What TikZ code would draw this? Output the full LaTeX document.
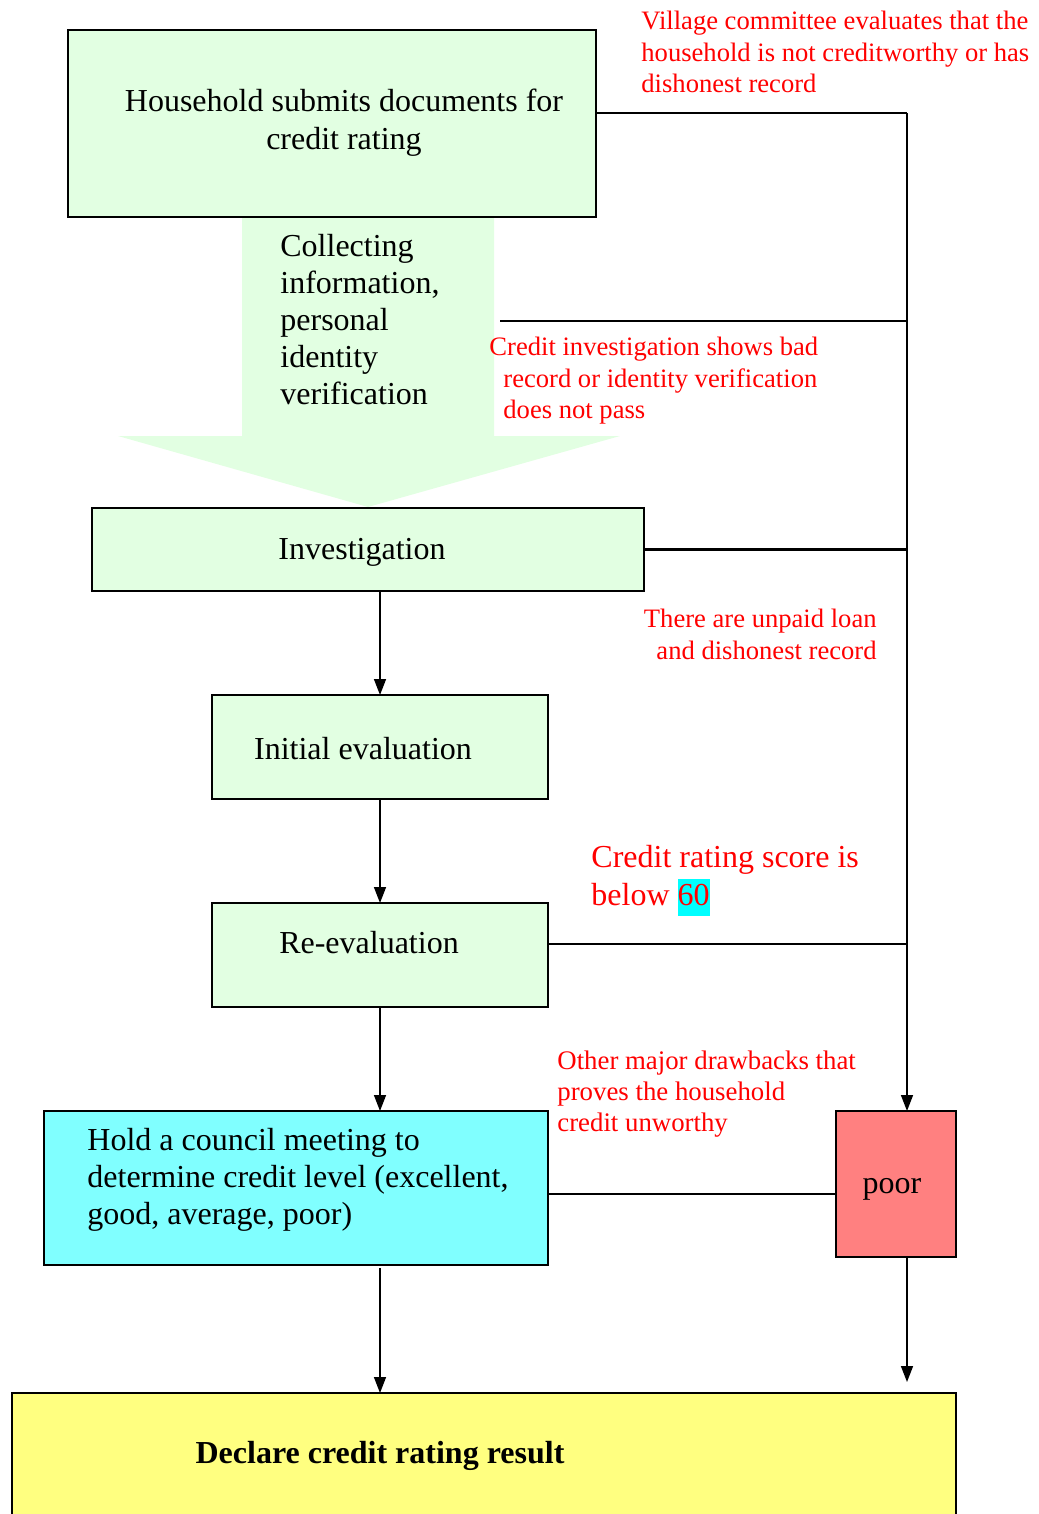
\documentclass[tikz,border=0pt]{standalone}
\usepackage{fontspec}
\setmainfont{Liberation Serif}
\usetikzlibrary{arrows.meta}
\definecolor{lgreen}{HTML}{E2FFE2}
\definecolor{lcyan}{HTML}{80FFFF}
\definecolor{lred}{HTML}{FF8080}
\definecolor{lyellow}{HTML}{FFFF80}
\definecolor{hl}{HTML}{00FFFF}
\begin{document}
\begin{tikzpicture}[x=0.5pt,y=-0.5pt,
  box/.style={draw=black, line width=1.1pt, anchor=north west, inner sep=0pt, outer sep=0pt},
  main/.style={font=\fontsize{16}{18.5}\selectfont, inner sep=0pt, align=center},
  note/.style={font=\fontsize{13.3}{15.75}\selectfont, text=red, inner sep=0pt, align=left},
  arr/.style={line width=0.75pt, -{Triangle[length=8pt,width=6pt]}},
  link/.style={line width=1.1pt},
  rail/.style={line width=0.75pt}]
\useasboundingbox (0,0) rectangle (1038,1514);
\clip (0,0) rectangle (1038,1514);

% big arrow
\fill[lgreen] (242,217) -- (494,217) -- (494,436) -- (620,436) -- (368,507) -- (118,436) -- (242,436) -- cycle;

% boxes
\node[box, fill=lgreen, minimum width=264pt, minimum height=93.5pt] (b1) at (68,30) {};
\node[box, fill=lgreen, minimum width=276pt, minimum height=41.5pt] (inv) at (92,508) {};
\node[box, fill=lgreen, minimum width=168pt, minimum height=52pt] (ini) at (212,695) {};
\node[box, fill=lgreen, minimum width=168pt, minimum height=52pt] (re) at (212,903) {};
\node[box, fill=lcyan, minimum width=252pt, minimum height=77pt] (coun) at (44,1111) {};
\node[box, fill=lred, minimum width=60pt, minimum height=73pt] (poor) at (836,1111) {};
\node[box, fill=lyellow, minimum width=472pt, minimum height=75pt] (dec) at (12,1393) {};

% box texts
\node[main, font=\fontsize{16}{19}\selectfont] (t1) at (344,123) {Household submits documents for\\credit rating};
\node[main, align=left, anchor=west] (tcol) at (280,320) {Collecting\\information,\\personal\\identity\\verification};
\node[main] (tinv) at (362,552) {Investigation};
\node[main] (tini) at (363,749) {Initial evaluation};
\node[main] (tre) at (369,943) {Re-evaluation};
\node[main, align=left, anchor=west] (tcoun) at (87,1180) {Hold a council meeting to\\determine credit level (excellent,\\good, average, poor)};
\node[main] (tpoor) at (892,1189) {poor};
\node[main, font=\fontsize{16}{18.5}\selectfont\bfseries] (tdec) at (380,1456) {Declare credit rating result};

% red notes
\node[note, anchor=west] (n1) at (641,52) {Village committee evaluates that the\\household is not creditworthy or has\\dishonest record};
\node[note, anchor=west] (n2) at (503,381) {\hspace*{-7pt}Credit investigation shows bad\\record or identity verification\\does not pass};
\node[note, anchor=east, align=right, font=\fontsize{13.3}{16}\selectfont] (n3) at (877,634) {There are unpaid loan\\and dishonest record};
\node[note, anchor=west, font=\fontsize{16}{18.7}\selectfont] (n4) at (591,881) {Credit rating score is\\below {\setlength{\fboxsep}{0pt}\colorbox{hl}{\strut 60}}};
\node[note, anchor=west, font=\fontsize{13.4}{15.5}\selectfont] (n5) at (557,1094) {Other major drawbacks that\\proves the household\\credit unworthy};

% rail coordinates
\coordinate (r1) at (907,113);
\coordinate (r2) at (907,321);
\coordinate (a2) at (500,321);
\coordinate (r4) at (907,944);
\coordinate (pe) at (907,1382);

% connectors to the rail
\draw[link] (b1.east |- r1) -- (r1);
\draw[link] (a2) -- (r2);
\draw[link] (inv.east) -- (inv.east -| r1);
\draw[link] (re.east |- r4) -- (r4);
\draw[link] ([yshift=-3pt]coun.east) -- ([yshift=-3pt]coun.east -| poor.west);
\draw[arr] (r1) -- (r1 |- poor.north);
\draw[arr] (pe |- poor.south) -- (pe);

% main flow
\draw[arr] (ini.north |- inv.south) -- (ini.north);
\draw[arr] (ini.south) -- (re.north);
\draw[arr] (re.south) -- (re.south |- coun.north);
\draw[arr, shorten <=1.5pt] (coun.south -| re.south) -- (dec.north -| re.south);
\end{tikzpicture}
\end{document}
